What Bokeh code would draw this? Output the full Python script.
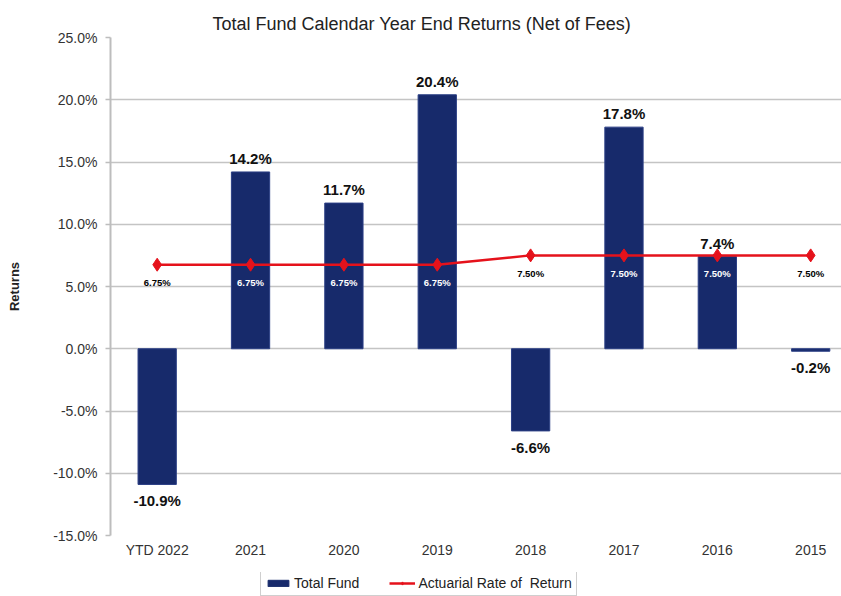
from bokeh.plotting import figure
from bokeh.layouts import column
from bokeh.models import (ColumnDataSource, FixedTicker, PrintfTickFormatter,
                          Legend, LegendItem, Range1d, LabelSet)
from bokeh.core.properties import value
from bokeh.embed import file_html
from bokeh.resources import INLINE

categories = ["YTD 2022", "2021", "2020", "2019", "2018", "2017", "2016", "2015"]
total_fund = [-10.9, 14.2, 11.7, 20.4, -6.6, 17.8, 7.4, -0.2]
actuarial_rate = [6.75, 6.75, 6.75, 6.75, 7.50, 7.50, 7.50, 7.50]
y_ticks = [-15, -10, -5, 0, 5, 10, 15, 20, 25]

xs = list(range(len(categories)))
bar_labels = [f"{v:.1f}%" for v in total_fund]
rate_labels = [f"{v:.2f}%" for v in actuarial_rate]
rate_colors = ["white" if b > r - 2 else "black" for b, r in zip(total_fund, actuarial_rate)]

pos = ColumnDataSource(dict(x=[x for x, v in zip(xs, total_fund) if v >= 0],
                            y=[v for v in total_fund if v >= 0],
                            t=[l for l, v in zip(bar_labels, total_fund) if v >= 0]))
neg = ColumnDataSource(dict(x=[x for x, v in zip(xs, total_fund) if v < 0],
                            y=[v for v in total_fund if v < 0],
                            t=[l for l, v in zip(bar_labels, total_fund) if v < 0]))
src = ColumnDataSource(dict(x=xs, top=total_fund, rate=actuarial_rate,
                            rt=rate_labels, rc=rate_colors))

FONT = "Liberation Sans"
NAVY = "#172a6b"
RED = "#e5121b"

p = figure(width=841, height=572, output_backend="svg", toolbar_location=None,
           x_range=Range1d(-0.5, 7.33), y_range=Range1d(-15, 25),
           min_border_left=110, min_border_right=0, min_border_top=37,
           min_border_bottom=37,
           title="Total Fund Calendar Year End Returns (Net of Fees)")
p.outline_line_color = None
p.background_fill_color = "white"

p.title.align = "left"
p.title.offset = 102
p.title.text_font = FONT
p.title.text_font_size = "18px"
p.title.text_font_style = "normal"
p.title.text_color = "#222222"
p.title.standoff = 7

# grid
p.xgrid.visible = False
p.ygrid.ticker = FixedTicker(ticks=y_ticks)
p.ygrid.grid_line_color = "#c4c4c4"
p.ygrid.grid_line_width = 1.5

p.vbar(x="x", top="top", bottom=0, width=0.41, source=src,
       fill_color=NAVY, line_color="#2b3f85", line_width=1)
p.line(x="x", y="rate", source=src, line_color=RED, line_width=2.5)
p.scatter(x="x", y="rate", source=src, marker="diamond", size=13,
          fill_color=RED, line_color=RED)

# labels
p.add_layout(LabelSet(x="x", y="y", text="t", source=pos, text_align="center",
                      text_baseline="bottom", y_offset=5, text_font=value(FONT),
                      text_font_size="15px", text_font_style="bold",
                      text_color="#111111"))
p.add_layout(LabelSet(x="x", y="y", text="t", source=neg, text_align="center",
                      text_baseline="top", y_offset=-8, text_font=value(FONT),
                      text_font_size="15px", text_font_style="bold",
                      text_color="#111111"))
p.add_layout(LabelSet(x="x", y="rate", text="rt", source=src, text_align="center",
                      text_baseline="middle", y_offset=-18, text_font=value(FONT),
                      text_font_size="9.5px", text_font_style="bold",
                      text_color="rc"))

# axes
p.yaxis.ticker = FixedTicker(ticks=y_ticks)
p.yaxis.formatter = PrintfTickFormatter(format="%.1f%%")
p.yaxis.axis_label = "Returns"
p.yaxis.axis_label_text_font = FONT
p.yaxis.axis_label_text_font_size = "13px"
p.yaxis.axis_label_text_font_style = "bold"
p.yaxis.axis_label_text_color = "#222222"
p.yaxis.axis_label_standoff = 28
p.yaxis.major_label_text_font = FONT
p.yaxis.major_label_text_font_size = "14px"
p.yaxis.major_label_text_color = "#333333"
p.yaxis.major_label_standoff = 8
p.yaxis.axis_line_color = "#bdbdbd"
p.yaxis.axis_line_width = 2
p.yaxis.major_tick_line_color = "#bdbdbd"
p.yaxis.major_tick_line_width = 1.5
p.yaxis.major_tick_out = 5
p.yaxis.major_tick_in = 0
p.yaxis.minor_tick_line_color = None

p.xaxis.ticker = FixedTicker(ticks=xs)
p.xaxis.major_label_overrides = {i: c for i, c in enumerate(categories)}
p.xaxis.major_label_text_font = FONT
p.xaxis.major_label_text_font_size = "14px"
p.xaxis.major_label_text_color = "#333333"
p.xaxis.major_label_standoff = 6
p.xaxis.major_tick_out = 0
p.xaxis.major_tick_in = 0
p.xaxis.axis_line_color = None
p.xaxis.major_tick_line_color = None
p.xaxis.minor_tick_line_color = None

# legend strip (series drawn outside its visible range; only the legend shows)
lg = figure(width=841, height=24, output_backend="svg", toolbar_location=None,
            x_range=Range1d(1000, 1001), y_range=Range1d(1000, 1001),
            x_axis_location=None, y_axis_location=None, min_border=0)
lg.outline_line_color = None
lg.grid.visible = False
lb = lg.vbar(x="x", top="top", bottom=0, width=0.41, source=src,
             fill_color=NAVY, line_color=NAVY)
ll = lg.line(x="x", y="rate", source=src, line_color=RED, line_width=2.5)
lm = lg.scatter(x="x", y="rate", source=src, marker="diamond", size=9,
                fill_color=RED, line_color=RED)
legend = Legend(items=[LegendItem(label="Total Fund", renderers=[lb]),
                       LegendItem(label="Actuarial Rate of  Return", renderers=[ll, lm])],
                orientation="horizontal", location=(150, 0),
                label_text_font=FONT, label_text_font_size="14px",
                label_text_color="#222222", border_line_color="#a0a0a0",
                border_line_width=1.5, padding=4, spacing=30,
                glyph_width=26, glyph_height=8, label_standoff=3,
                label_height=16,
                margin=0, background_fill_alpha=1)
lg.add_layout(legend, "center")

open("out.html", "w").write(file_html(column(p, lg, spacing=0), INLINE))
